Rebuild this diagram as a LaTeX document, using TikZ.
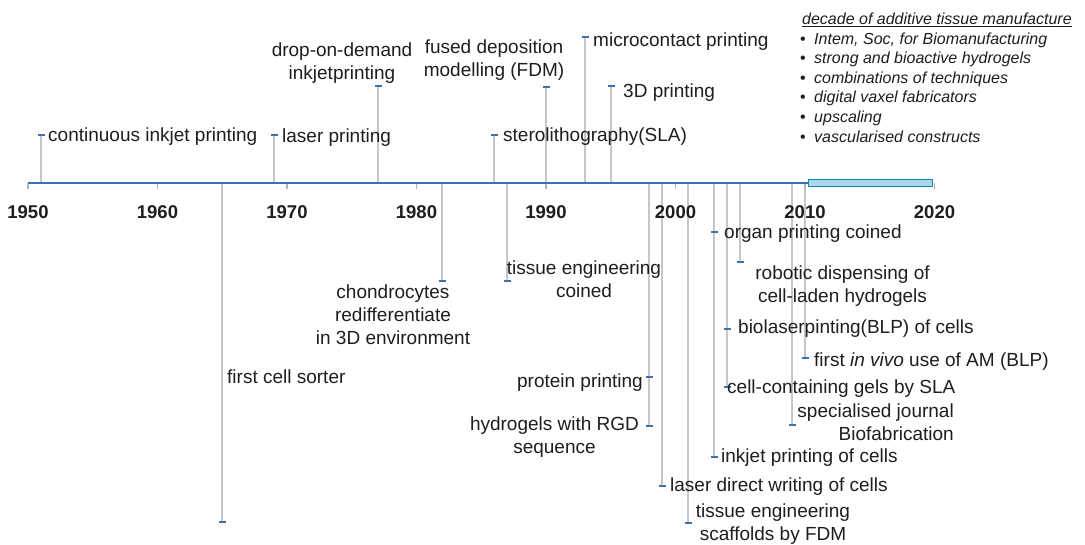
\documentclass[tikz,border=0pt]{standalone}
\usepackage{fontspec}
\setmainfont{Liberation Sans}
\definecolor{axisblue}{HTML}{3A70B6}
\definecolor{stemgrey}{HTML}{C6C6C6}
\definecolor{tickgrey}{HTML}{B4B4B4}
\definecolor{boxfill}{HTML}{A8D8EA}
\definecolor{boxedge}{HTML}{1687AE}
\definecolor{txt}{HTML}{1E1E1E}
\begin{document}
\begin{tikzpicture}[x=1pt,y=-1pt,
  lbl/.style={font=\fontsize{19}{23}\selectfont, text=txt, inner sep=0pt},
  stem/.style={draw=stemgrey, line width=2pt},
  mk/.style={rectangle, fill=axisblue, draw=none, minimum width=7pt, minimum height=2pt, inner sep=0pt},
  yr/.style={font=\fontsize{18.5}{22}\selectfont\bfseries, text=txt, inner sep=0pt, anchor=base},
  tk/.style={draw=tickgrey, line width=1.3pt},
  leg/.style={font=\fontsize{16}{19}\selectfont\itshape, text=txt, inner sep=0pt, anchor=base west},
  bul/.style={font=\fontsize{16}{19}\selectfont, text=txt, inner sep=0pt, anchor=base}]

\useasboundingbox (0,0) rectangle (1085,544);
\fill[white] (0,0) rectangle (1085,544);

% axis anchor coordinates
\coordinate (a1) at (41,183);   \coordinate (e1) at (41,135);
\coordinate (a2) at (274,183);  \coordinate (e2) at (274,135);
\coordinate (a3) at (378,183);  \coordinate (e3) at (378,86);
\coordinate (a4) at (494,183);  \coordinate (e4) at (494,135);
\coordinate (a5) at (546,183);  \coordinate (e5) at (546,87);
\coordinate (a6) at (585,183);  \coordinate (e6) at (585,37);
\coordinate (a7) at (611,183);  \coordinate (e7) at (611,86);
\coordinate (a8) at (222,183);  \coordinate (e8) at (222,522);
\coordinate (a9) at (442,183);  \coordinate (e9) at (442,281);
\coordinate (a10) at (507,183); \coordinate (e10) at (507,281);
\coordinate (a11) at (649,183); \coordinate (e11) at (649,377);
\coordinate (a12) at (649,183); \coordinate (e12) at (649,426);
\coordinate (a13) at (662,183); \coordinate (e13) at (662,486);
\coordinate (a14) at (688,183); \coordinate (e14) at (688,523);
\coordinate (a15) at (714,183); \coordinate (e15) at (714,232);
\coordinate (a16) at (714,183); \coordinate (e16) at (714,457);
\coordinate (a17) at (727,183); \coordinate (e17) at (727,329);
\coordinate (a18) at (727,183); \coordinate (e18) at (727,387);
\coordinate (a19) at (740,183); \coordinate (e19) at (740,262);
\coordinate (a20) at (792,183); \coordinate (e20) at (792,425);
\coordinate (a21) at (805,183); \coordinate (e21) at (805,358);

% stems
\foreach \i in {1,...,21} { \draw[stem] (a\i) -- (e\i); }

% decade ticks and year labels
\foreach \k/\yv in {0/1950,1/1960,2/1970,3/1980,4/1990,5/2000,6/2010,7/2020} {
  \coordinate (t\yv) at ({28+129.5*\k},183);
  \coordinate (tb\yv) at ({28+129.5*\k},189);
  \draw[tk] (t\yv) -- (tb\yv);
  \node[yr] (y\yv) at ({28+129.5*\k},218) {\yv};
}

% axis
\coordinate (axL) at (28,183);
\coordinate (axR) at (808,183);
\draw[axisblue, line width=2.4pt] (axL) -- (axR);
\node[rectangle, draw=boxedge, fill=boxfill, line width=1.5pt, inner sep=0pt,
      minimum width=124pt, minimum height=7pt] (decbox) at (870.5,182.8) {};

% markers
\foreach \i in {1,...,21} { \node[mk] (m\i) at (e\i) {}; }

% labels above axis
\node[lbl, anchor=base west] (L1) at (48,141) {continuous inkjet printing};
\node[lbl, anchor=base west] (L2) at (282,142) {laser printing};
\node[lbl, anchor=base, align=center] (L3) at (342,79) {drop-on-demand\\inkjetprinting};
\node[lbl, anchor=base west] (L4) at (503,141) {sterolithography(SLA)};
\node[lbl, anchor=base, align=center] (L5) at (494,76) {fused deposition\\modelling (FDM)};
\node[lbl, anchor=base west] (L6) at (593,46) {microcontact printing};
\node[lbl, anchor=base west] (L7) at (623,97) {3D printing};

% labels below axis
\node[lbl, anchor=base west] (L8) at (227,383) {first cell sorter};
\node[lbl, anchor=base, align=center] (L9) at (393,344) {chondrocytes\\redifferentiate\\in 3D environment};
\node[lbl, anchor=base, align=center] (L10) at (584,297) {tissue engineering\\coined};
\node[lbl, anchor=base east] (L11) at (643,387) {protein printing};
\node[lbl, anchor=base, align=center] (L12) at (554.5,453) {hydrogels with RGD\\sequence};
\node[lbl, anchor=base west] (L13) at (670,491) {laser direct writing of cells};
\node[lbl, anchor=base, align=center] (L14) at (773,540) {tissue engineering\\scaffolds by FDM};
\node[lbl, anchor=base west] (L15) at (724,238) {organ printing coined};
\node[lbl, anchor=base west] (L16) at (721,462) {inkjet printing of cells};
\node[lbl, anchor=base west] (L17) at (738,333) {biolaserpinting(BLP) of cells};
\node[lbl, anchor=base west] (L18) at (727,393) {cell-containing gels by SLA};
\node[lbl, anchor=base, align=center] (L19) at (842.5,302) {robotic dispensing of\\cell-laden hydrogels};
\node[lbl, anchor=base east, align=right] (L20) at (954,440) {specialised journal\\Biofabrication};
\node[lbl, anchor=base west] (L21) at (814,366) {first \textit{in vivo} use of AM (BLP)};

% legend
\node[leg] (hdr) at (802,24) {decade of additive tissue manufacture};
\draw[txt, line width=0.9pt] ([yshift=-2.4pt]hdr.base west) -- ([yshift=-2.4pt]hdr.base east);
\foreach \j/\t in {0/{Intem, Soc, for Biomanufacturing},1/{strong and bioactive hydrogels},2/{combinations of techniques},3/{digital vaxel fabricators},4/{upscaling},5/{vascularised constructs}} {
  \node[bul] (b\j) at (803,{44+19.6*\j}) {•};
  \node[leg] (g\j) at (814,{44+19.6*\j}) {\t};
}
\end{tikzpicture}
\end{document}
